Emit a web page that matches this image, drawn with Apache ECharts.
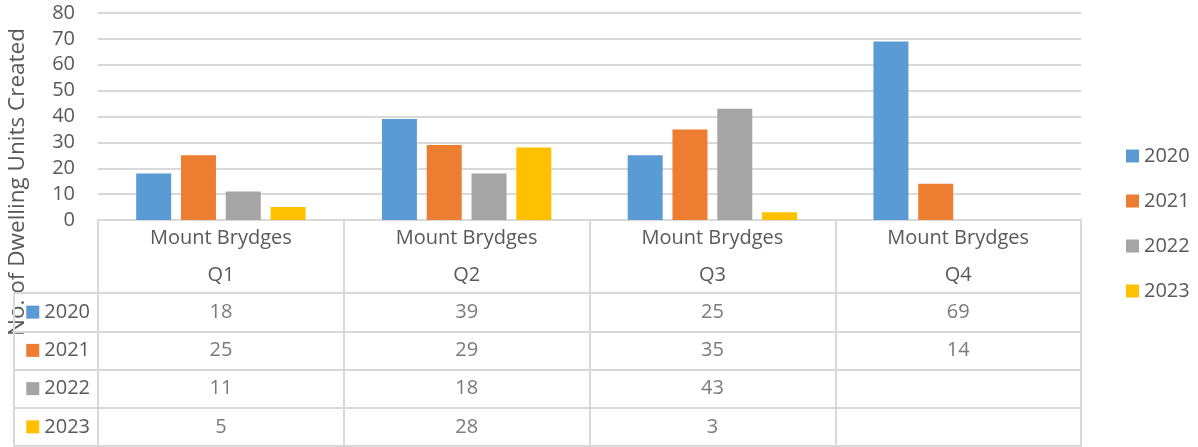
<!DOCTYPE html>
<html>
<head>
<meta charset="utf-8">
<script src="https://cdn.jsdelivr.net/npm/echarts@6/dist/echarts.min.js"></script>
<style>
  html, body { margin: 0; padding: 0; background: #fff; }
  #chart { width: 1198px; height: 447px; }
</style>
</head>
<body>
<div id="chart"></div>
<script>
// data
const place = 'Mount Brydges'
const quarters = ['Q1', 'Q2', 'Q3', 'Q4']
const years = ['2020', '2021', '2022', '2023']
const units2020 = [18, 39, 25, 69]
const units2021 = [25, 29, 35, 14]
const units2022 = [11, 18, 43, null]
const units2023 = [5, 28, 3, null]
const yTicks = [0, 80, 10] // min, max, interval
const yTitle = 'No. of Dwelling Units Created'

const colors = ['#5B9BD5', '#ED7D31', '#A5A5A5', '#FFC000']
const values = [units2020, units2021, units2022, units2023]
const lineColor = '#D9D9D9'
const textColor = '#595959'
const font = 'Open Sans'

// table cells: [quarter index, row index, value]
const cells = []
values.forEach((arr, row) => {
  arr.forEach((v, q) => {
    if (v !== null) cells.push([q, row, v])
  })
})

const rich = {}
years.forEach((y, i) => {
  rich['c' + i] = { backgroundColor: colors[i], width: 13, height: 13 }
})
rich.t = { fontSize: 20, color: textColor, fontFamily: font, padding: [0, 0, 0, 5] }

const chart = echarts.init(document.getElementById('chart'))
const options = {
  color: colors,
  textStyle: { fontFamily: font },
  graphic: [
    {
      type: 'text',
      x: 18,
      y: 182,
      rotation: Math.PI / 2,
      style: {
        text: yTitle,
        fill: textColor,
        font: '22.5px "Open Sans"',
        align: 'center',
        verticalAlign: 'middle'
      },
      silent: true
    }
  ],
  legend: {
    data: years,
    orient: 'vertical',
    left: 1121,
    top: 141,
    itemWidth: 13,
    itemHeight: 13,
    itemGap: 25,
    icon: 'rect',
    textStyle: { fontSize: 20, color: textColor, fontFamily: font, lineHeight: 20 }
  },
  grid: [
    { left: 98, right: 117, top: 13, bottom: 227, outerBoundsMode: 'none' },
    { left: 98, right: 117, top: 293, bottom: 1, outerBoundsMode: 'none' }
  ],
  xAxis: [
    {
      gridIndex: 0,
      type: 'category',
      data: quarters,
      axisLine: { lineStyle: { color: lineColor, width: 2 } },
      axisTick: { show: true, length: 73, lineStyle: { color: lineColor, width: 2 } },
      axisLabel: {
        margin: 0,
        fontSize: 20,
        lineHeight: 37,
        color: textColor,
        fontFamily: font,
        formatter: (q) => place + '\n' + q
      }
    },
    {
      gridIndex: 1,
      type: 'category',
      data: quarters,
      position: 'top',
      axisLine: { lineStyle: { color: lineColor, width: 2 } },
      axisTick: { show: false },
      axisLabel: { show: false },
      splitLine: { show: true, lineStyle: { color: lineColor, width: 2 } }
    },
    {
      gridIndex: 1,
      type: 'category',
      data: quarters,
      position: 'bottom',
      axisLine: { lineStyle: { color: lineColor, width: 2 } },
      axisTick: { show: false },
      axisLabel: { show: false }
    }
  ],
  yAxis: [
    {
      gridIndex: 0,
      type: 'value',
      min: yTicks[0],
      max: yTicks[1],
      interval: yTicks[2],
      axisLine: { show: false },
      axisTick: { show: false },
      axisLabel: { fontSize: 20, color: textColor, fontFamily: font, margin: 23 },
      splitLine: { lineStyle: { color: lineColor, width: 2 } }
    },
    {
      gridIndex: 1,
      type: 'category',
      data: years,
      inverse: true,
      axisLine: { show: true, lineStyle: { color: lineColor, width: 2 } },
      axisTick: { show: true, length: 84, lineStyle: { color: lineColor, width: 2 } },
      axisLabel: {
        margin: 8,
        formatter: (y) => '{c' + years.indexOf(y) + '|}{t|' + y + '}',
        rich: rich
      },
      splitLine: { show: true, lineStyle: { color: lineColor, width: 2 } }
    },
    {
      gridIndex: 1,
      type: 'category',
      data: years,
      inverse: true,
      position: 'left',
      offset: 84,
      axisLine: { show: true, lineStyle: { color: lineColor, width: 2 } },
      axisTick: { show: false },
      axisLabel: { show: false }
    },
    {
      gridIndex: 1,
      type: 'category',
      data: years,
      inverse: true,
      position: 'right',
      axisLine: { show: true, lineStyle: { color: lineColor, width: 2 } },
      axisTick: { show: false },
      axisLabel: { show: false }
    }
  ],
  series: [
    ...years.map((y, i) => ({
      name: y,
      type: 'bar',
      xAxisIndex: 0,
      yAxisIndex: 0,
      barWidth: 35,
      barGap: '28%',
      data: values[i]
    })),
    {
      name: 'table',
      type: 'scatter',
      xAxisIndex: 1,
      yAxisIndex: 1,
      symbolSize: 1,
      itemStyle: { color: 'transparent' },
      silent: true,
      label: {
        show: true,
        position: 'inside',
        fontSize: 20,
        color: textColor,
        fontFamily: font,
        formatter: (p) => String(p.value[2])
      },
      data: cells
    }
  ]
}
chart.setOption(options)
</script>
</body>
</html>
